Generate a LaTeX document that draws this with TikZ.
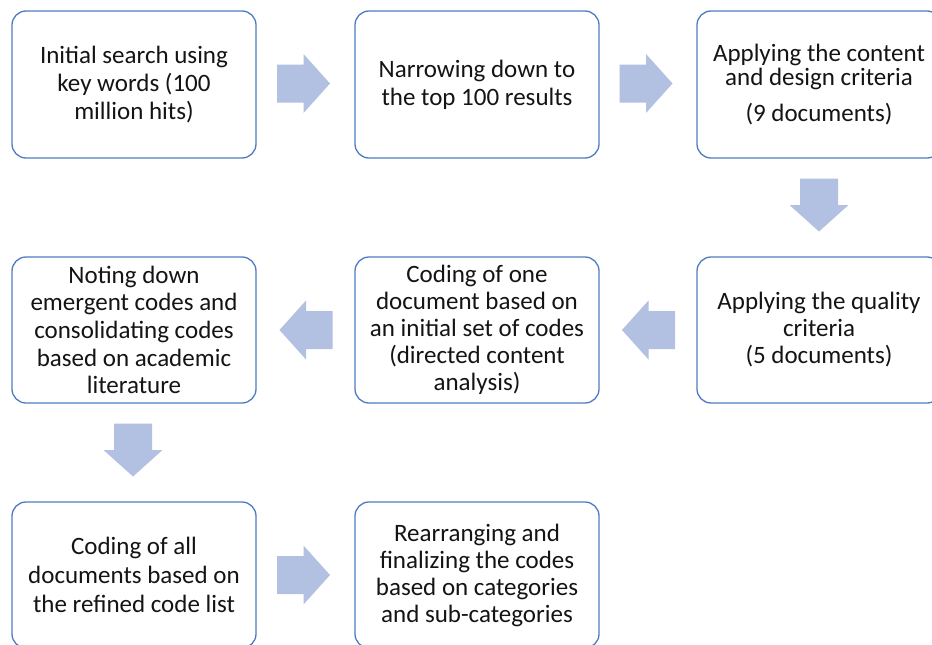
\documentclass[tikz,border=0pt]{standalone}
\usepackage{fontspec}
\setmainfont{Carlito}
\usetikzlibrary{calc}
\definecolor{boxline}{RGB}{79,123,196}
\definecolor{arrowfill}{RGB}{178,192,225}
\definecolor{ink}{RGB}{20,20,20}
\tikzset{
  stepbox/.style={draw=boxline, line width=1.3pt, rounded corners=14pt,
    minimum width=244pt, minimum height=147pt, align=center,
    text=ink, inner sep=0pt, font=\fontsize{25}{28}\selectfont},
  pics/blockarrow/.style={code={
    \fill[arrowfill] (-26.5pt,-19pt) -- (0pt,-19pt) -- (0pt,-29.5pt) -- (26.5pt,0pt)
      -- (0pt,29.5pt) -- (0pt,19pt) -- (-26.5pt,19pt) -- cycle;}}
}
\begin{document}
\begin{tikzpicture}[x=1pt,y=-1pt]
\useasboundingbox (0,0) rectangle (932,645);
\clip (0,0) rectangle (932,645);
\fill[white] (0,0) rectangle (932,645);

% first row
\node[stepbox] (b1) at (134,84.5) {Initial search using\\key words (100\\million hits)};
\node[stepbox] (b2) at (477,84.5) {Narrowing down to\\the top 100 results};
\node[stepbox, font=\fontsize{25}{24.5}\selectfont] (b3) at (819,84.5)
  {Applying the content\\and design criteria\\[11pt](9 documents)};

% second row
\node[stepbox, minimum height=146pt, font=\fontsize{25}{27}\selectfont] (b6) at (819,330)
  {Applying the quality\\criteria\\(5 documents)};
\node[stepbox, minimum height=146pt, font=\fontsize{25}{27}\selectfont] (b5) at (477,330)
  {Coding of one\\document based on\\an initial set of codes\\(directed content\\analysis)};
\node[stepbox, minimum height=146pt, font=\fontsize{25}{27.7}\selectfont] (b4) at (134,330)
  {Noting down\\emergent codes and\\consolidating codes\\based on academic\\literature};

% third row
\node[stepbox, minimum height=146pt, font=\fontsize{25}{29}\selectfont] (b7) at (134,575)
  {Coding of all\\documents based on\\the refined code list};
\node[stepbox, minimum height=146pt, font=\fontsize{25}{27}\selectfont] (b8) at (477,575)
  {Rearranging and\\finalizing the codes\\based on categories\\and sub-categories};

% block arrows between the steps
\pic at ($(b1.east)!0.5!(b2.west)+(-2,-1)$) {blockarrow};
\pic at ($(b2.east)!0.5!(b3.west)+(-2,-1)$) {blockarrow};
\pic[rotate=-90] at ($(b3.south)!0.5!(b6.north)+(0,-2.5)$) {blockarrow};
\pic[rotate=180] at ($(b6.west)!0.5!(b5.east)+(0.5,0)$) {blockarrow};
\pic[rotate=180] at ($(b5.west)!0.5!(b4.east)+(0.5,0)$) {blockarrow};
\pic[rotate=-90] at ($(b4.south)!0.5!(b7.north)+(-1,-2.5)$) {blockarrow};
\pic at ($(b7.east)!0.5!(b8.west)+(-2,0)$) {blockarrow};
\end{tikzpicture}
\end{document}
